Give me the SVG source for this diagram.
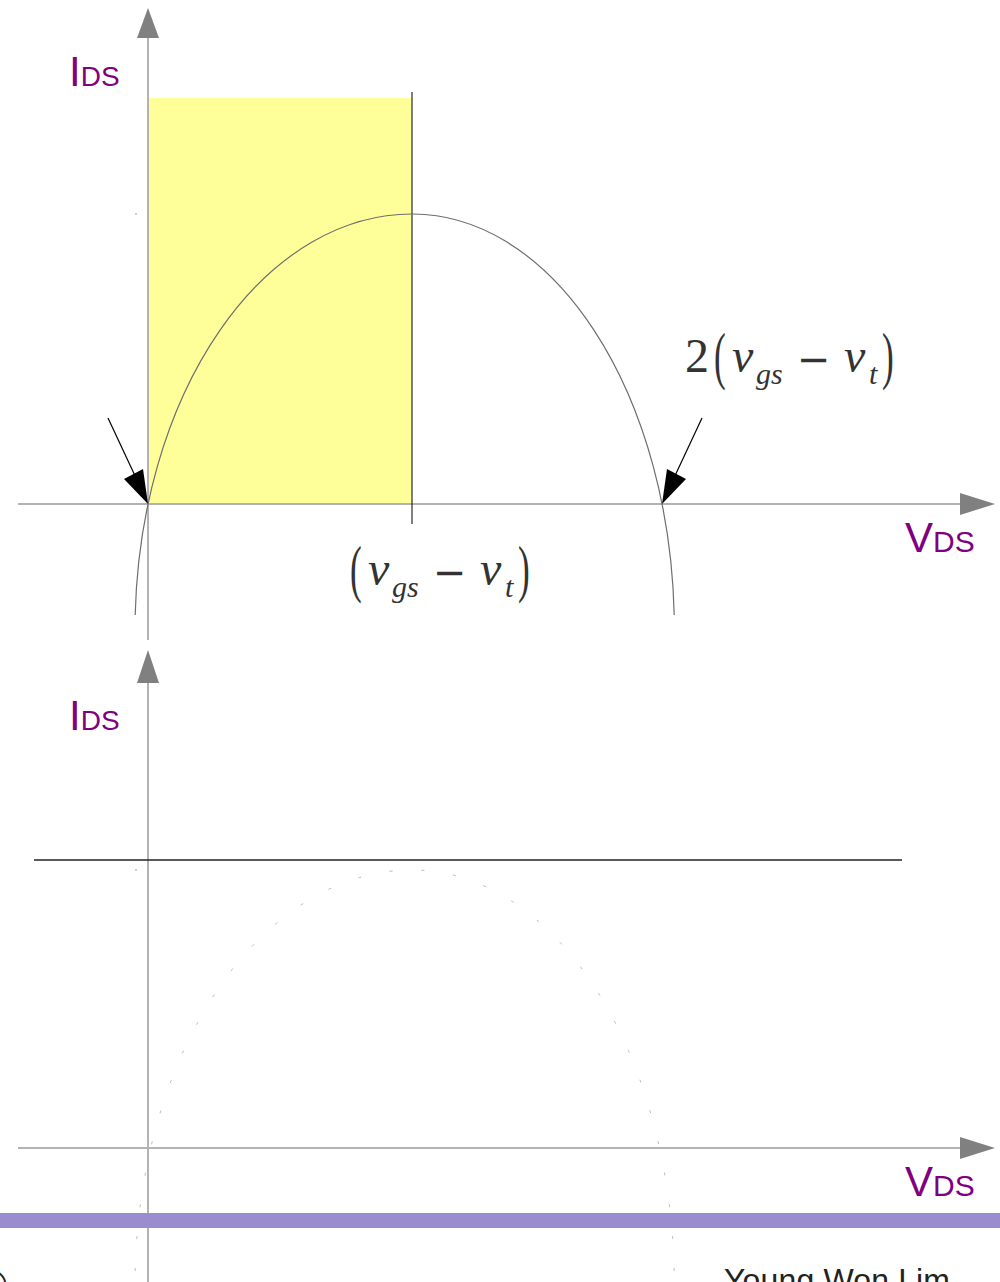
<svg xmlns="http://www.w3.org/2000/svg" width="1000" height="1282" viewBox="0 0 1000 1282">
<style>
.axis{stroke:#b3b3b3;stroke-width:2;fill:none}
.ahead{fill:#808080}
.lbl{fill:#800080;font-family:"Liberation Sans",Arial,sans-serif}
.m{fill:#333;font-family:"Liberation Serif","DejaVu Serif",serif}
.mi{font-style:italic}
.minus{font-family:"DejaVu Sans",sans-serif}
.curve{stroke:#6e6e6e;stroke-width:1.2;fill:none}
.dcurve{stroke:#bbb;stroke-width:1;fill:none;stroke-dasharray:3 29}
</style>
<rect width="1000" height="1282" fill="#fff"/>
<g id="plot1-region"><rect x="148" y="98" width="264" height="406" fill="#ffff99"/></g>
<g id="connectors">
  <line class="axis" x1="148" y1="640" x2="148" y2="36"/>
  <polygon class="ahead" points="148,8 137,38 159,38"/>
  <line class="axis" x1="18" y1="504" x2="962" y2="504"/>
  <polygon class="ahead" points="995,504 960,493 960,515"/>
  <line x1="412" y1="92" x2="412" y2="524" stroke="#000" stroke-width="1"/>
  <path class="curve" d="M135.2,615 A277,416 0 0 1 412,214 A262,416 0 0 1 674.2,615"/>
  <line x1="108" y1="418" x2="137" y2="480" stroke="#000" stroke-width="1.2"/>
  <polygon points="148,504 124,479 143,469" fill="#000"/>
  <line x1="702" y1="418" x2="673" y2="480" stroke="#000" stroke-width="1.2"/>
  <polygon points="662,504 686,479 667,469" fill="#000"/>
  <line class="axis" x1="148" y1="1282" x2="148" y2="680"/>
  <polygon class="ahead" points="148,650 137,683 159,683"/>
  <line class="axis" x1="18" y1="1148" x2="962" y2="1148"/>
  <polygon class="ahead" points="995,1148 960,1137 960,1159"/>
  <line x1="34" y1="860" x2="902" y2="860" stroke="#222" stroke-width="1.5"/>
  <path class="dcurve" d="M135.2,1271 A277,416 0 0 1 412,870 A262,416 0 0 1 674.2,1271"/>
</g>
<rect x="135" y="213" width="2" height="2" fill="#ccc"/>
<rect x="135" y="869" width="2" height="2" fill="#ccc"/>
<g id="label-ids-top"><text class="lbl" x="69" y="86"><tspan font-size="42">I</tspan><tspan font-size="28">DS</tspan></text></g>
<g id="label-vds-top"><text class="lbl" x="905" y="552"><tspan font-size="42">V</tspan><tspan font-size="30">DS</tspan></text></g>
<g id="label-ids-bottom"><text class="lbl" x="69" y="730"><tspan font-size="42">I</tspan><tspan font-size="28">DS</tspan></text></g>
<g id="label-vds-bottom"><text class="lbl" x="905" y="1196"><tspan font-size="42">V</tspan><tspan font-size="30">DS</tspan></text></g>
<g id="label-vgs-vt" class="m">
  <text transform="translate(350,590) scale(0.55,1)" font-size="64">(</text>
  <text class="mi" x="368" y="585" font-size="48">v</text>
  <text class="mi" x="392" y="597" font-size="30">gs</text>
  <text class="minus" x="433" y="586" font-size="40">−</text>
  <text class="mi" x="480" y="585" font-size="48">v</text>
  <text class="mi" x="505" y="597" font-size="30">t</text>
  <text transform="translate(518,590) scale(0.55,1)" font-size="64">)</text>
</g>
<g id="label-2vgs-vt" class="m" transform="translate(364,-213)">
  <text x="321" y="585" font-size="48">2</text>
  <text transform="translate(350,590) scale(0.55,1)" font-size="64">(</text>
  <text class="mi" x="368" y="585" font-size="48">v</text>
  <text class="mi" x="392" y="597" font-size="30">gs</text>
  <text class="minus" x="433" y="586" font-size="40">−</text>
  <text class="mi" x="480" y="585" font-size="48">v</text>
  <text class="mi" x="505" y="597" font-size="30">t</text>
  <text transform="translate(518,590) scale(0.55,1)" font-size="64">)</text>
</g>
<rect id="footer-band" x="0" y="1213" width="1000" height="15" fill="#9b8bcf"/>
<g id="footer">
  <text x="724" y="1291" font-family="Liberation Sans,Arial,sans-serif" font-size="32" fill="#222" textLength="226">Young Won Lim</text>
  <text x="-24" y="1300" font-family="Liberation Sans,Arial,sans-serif" font-size="42" fill="#222">©</text>
</g>
</svg>
